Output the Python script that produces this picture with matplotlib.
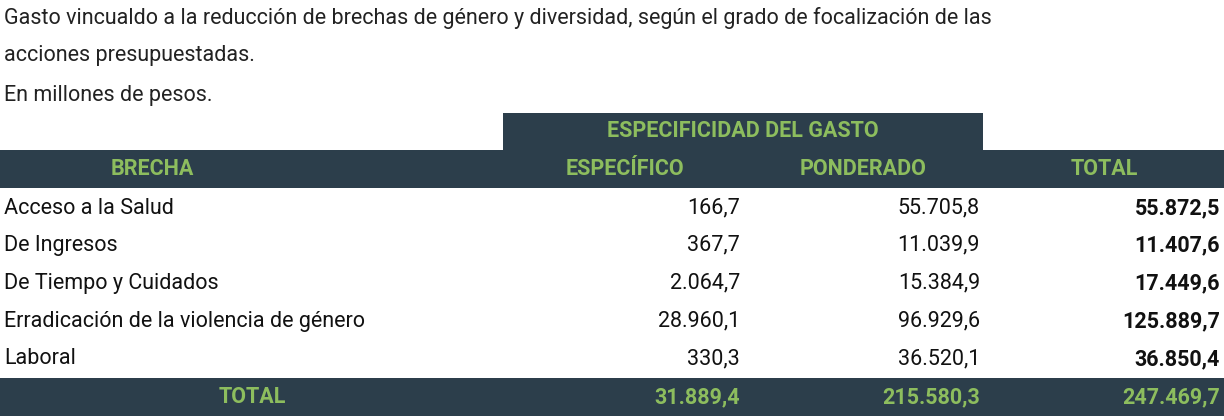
import matplotlib
matplotlib.use("Agg")
import matplotlib.pyplot as plt
from matplotlib.patches import Rectangle

title_lines = ["Gasto vincualdo a la reducción de brechas de género y diversidad, según el grado de focalización de las",
               "acciones presupuestadas.", "En millones de pesos."]
categories = ["Acceso a la Salud", "De Ingresos", "De Tiempo y Cuidados",
              "Erradicación de la violencia de género", "Laboral"]
especifico = ["166,7", "367,7", "2.064,7", "28.960,1", "330,3"]
ponderado = ["55.705,8", "11.039,9", "15.384,9", "96.929,6", "36.520,1"]
total = ["55.872,5", "11.407,6", "17.449,6", "125.889,7", "36.850,4"]
totals_row = ["TOTAL", "31.889,4", "215.580,3", "247.469,7"]
headers = ["BRECHA", "ESPECÍFICO", "PONDERADO", "TOTAL"]
group_header = "ESPECIFICIDAD DEL GASTO"

DARK = "#2c3e4b"
GREEN = "#8dbd5e"
FONT = "Roboto"

fig = plt.figure(figsize=(12.24, 4.2), dpi=100)
ax = fig.add_axes([0, 0, 1, 1])
ax.set_xlim(0, 1224); ax.set_ylim(420, 0); ax.axis("off")

fs = 15.5
for i, t in enumerate(title_lines):
    ax.text(4, [18, 56, 95][i], t, fontsize=fs, family=FONT, va="center", color="#222222")

ax.add_patch(Rectangle((503, 113), 480, 38, color=DARK, lw=0))
ax.add_patch(Rectangle((0, 150), 1224, 38, color=DARK, lw=0))
ax.add_patch(Rectangle((0, 378), 1224, 38, color=DARK, lw=0))
ax.text(743, 131, group_header, fontsize=fs, family=FONT, weight="bold", color=GREEN, ha="center", va="center")
for x, h in zip([152, 625, 863, 1104], headers):
    ax.text(x, 169, h, fontsize=fs, family=FONT, weight="bold", color=GREEN, ha="center", va="center")

ys = [208, 245, 283, 321, 359]
for y, c, e, p, t in zip(ys, categories, especifico, ponderado, total):
    ax.text(4, y, c, fontsize=fs, family=FONT, va="center", color="#111111")
    ax.text(740, y, e, fontsize=fs, family=FONT, va="center", ha="right", color="#111111")
    ax.text(980, y, p, fontsize=fs, family=FONT, va="center", ha="right", color="#111111")
    ax.text(1220, y, t, fontsize=fs, family=FONT, va="center", ha="right", weight="bold", color="#111111")

ax.text(252, 397, totals_row[0], fontsize=fs, family=FONT, weight="bold", color=GREEN, ha="center", va="center")
for x, v in zip([740, 980, 1220], totals_row[1:]):
    ax.text(x, 397, v, fontsize=fs, family=FONT, weight="bold", color=GREEN, ha="right", va="center")

fig.savefig("out.png", dpi=100)
